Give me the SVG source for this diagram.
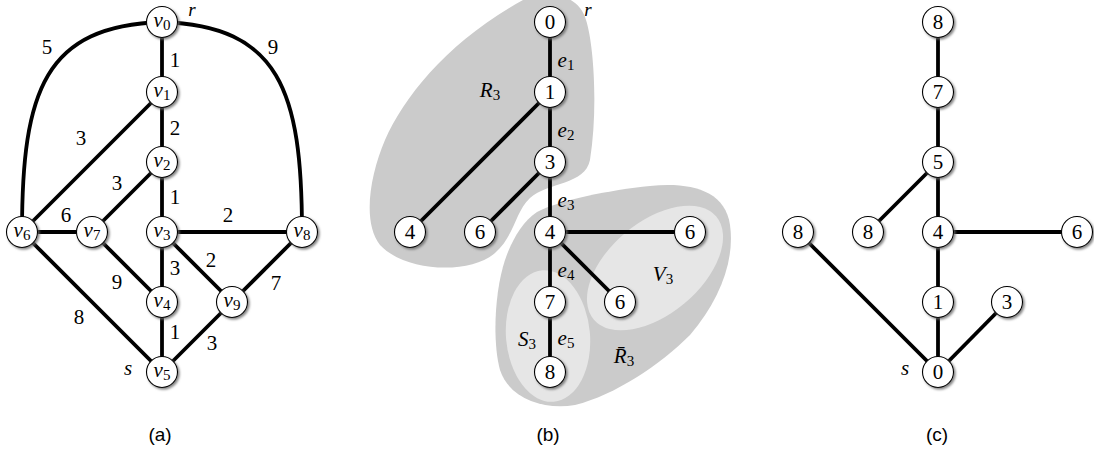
<svg xmlns="http://www.w3.org/2000/svg" width="1094" height="450" viewBox="0 0 1094 450">
<style>
.e{stroke:#000;stroke-width:3.8;fill:none;stroke-linecap:butt}
.n circle{fill:#fff;stroke:#000;stroke-width:1.1;filter:url(#sh)}
.n text{font-size:21px;text-anchor:middle;fill:#000}
.v text{font-size:21px;font-style:italic}
.sub{font-size:15px;font-style:normal}
.lb{font-size:21px;text-anchor:middle;fill:#000}
.it{font-style:italic}
.top{font-size:19px}
.cap{font-size:19px;text-anchor:middle;fill:#000}
.dark{fill:#cbcbcb}
.light{fill:#e6e6e6}
</style>
<defs>
<filter id="sh" x="-40%" y="-40%" width="180%" height="180%">
<feDropShadow dx="1.6" dy="1.6" stdDeviation="0.9" flood-color="#666" flood-opacity="0.8"/>
</filter>
</defs>
<rect width="1094" height="450" fill="#fff"/>

<!-- regions of panel (b) -->
<g id="regions">
<path class="dark" d="M523,0 C545,-10 578,-8 586,20 C594,45 598,110 590,160 C585,185 548,182 530,198 C515,212 515,235 495,253 C470,275 405,272 380,245 C362,222 370,175 385,140 C405,95 450,40 523,0 Z"/>
<path class="dark" d="M537,212 C560,200 610,190 650,186 C690,182 725,190 730,225 C735,260 720,300 690,335 C660,365 615,395 575,405 C545,410 510,400 500,370 C492,340 495,290 505,260 C512,240 522,222 537,212 Z"/>
<ellipse class="light" cx="548" cy="336" rx="42" ry="66" transform="rotate(-5 548 336)"/>
<ellipse class="light" cx="655" cy="268" rx="80" ry="46" transform="rotate(-40 655 268)"/>
</g>

<g id="connectors">
<!-- (a) -->
<path class="e" d="M162,22 C45,26 22,90 22,232"/>
<path class="e" d="M162,22 C279,26 302,90 302,232"/>
<line class="e" x1="162" y1="22" x2="162" y2="372"/>
<line class="e" x1="162" y1="92" x2="22" y2="232"/>
<line class="e" x1="162" y1="162" x2="92" y2="232"/>
<line class="e" x1="22" y1="232" x2="92" y2="232"/>
<line class="e" x1="162" y1="232" x2="302" y2="232"/>
<line class="e" x1="162" y1="232" x2="232" y2="302"/>
<line class="e" x1="302" y1="232" x2="232" y2="302"/>
<line class="e" x1="92" y1="232" x2="162" y2="302"/>
<line class="e" x1="22" y1="232" x2="162" y2="372"/>
<line class="e" x1="232" y1="302" x2="162" y2="372"/>
<!-- (b) -->
<line class="e" x1="550" y1="22" x2="550" y2="372"/>
<line class="e" x1="550" y1="92" x2="410" y2="232"/>
<line class="e" x1="550" y1="162" x2="480" y2="232"/>
<line class="e" x1="550" y1="232" x2="690" y2="232"/>
<line class="e" x1="550" y1="232" x2="620" y2="302"/>
<!-- (c) -->
<line class="e" x1="938" y1="22" x2="938" y2="372"/>
<line class="e" x1="938" y1="162" x2="868" y2="232"/>
<line class="e" x1="938" y1="232" x2="1077" y2="232"/>
<line class="e" x1="938" y1="372" x2="1007" y2="302"/>
<line class="e" x1="938" y1="372" x2="798" y2="232"/>
</g>

<g font-family="Liberation Serif, DejaVu Serif, serif">
<!-- panel (a) nodes -->
<g id="a-v0" class="n v"><circle cx="162" cy="22" r="15.5"/><text x="162" y="26.5">v<tspan class="sub" dy="3">0</tspan></text></g>
<g id="a-v1" class="n v"><circle cx="162" cy="92" r="15.5"/><text x="162" y="96.5">v<tspan class="sub" dy="3">1</tspan></text></g>
<g id="a-v2" class="n v"><circle cx="162" cy="162" r="15.5"/><text x="162" y="166.5">v<tspan class="sub" dy="3">2</tspan></text></g>
<g id="a-v3" class="n v"><circle cx="162" cy="232" r="15.5"/><text x="162" y="236.5">v<tspan class="sub" dy="3">3</tspan></text></g>
<g id="a-v6" class="n v"><circle cx="22" cy="232" r="15.5"/><text x="22" y="236.5">v<tspan class="sub" dy="3">6</tspan></text></g>
<g id="a-v7" class="n v"><circle cx="92" cy="232" r="15.5"/><text x="92" y="236.5">v<tspan class="sub" dy="3">7</tspan></text></g>
<g id="a-v8" class="n v"><circle cx="302" cy="232" r="15.5"/><text x="302" y="236.5">v<tspan class="sub" dy="3">8</tspan></text></g>
<g id="a-v4" class="n v"><circle cx="162" cy="302" r="15.5"/><text x="162" y="306.5">v<tspan class="sub" dy="3">4</tspan></text></g>
<g id="a-v9" class="n v"><circle cx="232" cy="302" r="15.5"/><text x="232" y="306.5">v<tspan class="sub" dy="3">9</tspan></text></g>
<g id="a-v5" class="n v"><circle cx="162" cy="372" r="15.5"/><text x="162" y="376.5">v<tspan class="sub" dy="3">5</tspan></text></g>

<!-- panel (b) nodes -->
<g id="b-0" class="n"><circle cx="550" cy="22" r="15.5"/><text x="550" y="29">0</text></g>
<g id="b-1" class="n"><circle cx="550" cy="92" r="15.5"/><text x="550" y="99">1</text></g>
<g id="b-3" class="n"><circle cx="550" cy="162" r="15.5"/><text x="550" y="169">3</text></g>
<g id="b-4a" class="n"><circle cx="410" cy="232" r="15.5"/><text x="410" y="239">4</text></g>
<g id="b-6a" class="n"><circle cx="480" cy="232" r="15.5"/><text x="480" y="239">6</text></g>
<g id="b-4" class="n"><circle cx="550" cy="232" r="15.5"/><text x="550" y="239">4</text></g>
<g id="b-6b" class="n"><circle cx="690" cy="232" r="15.5"/><text x="690" y="239">6</text></g>
<g id="b-7" class="n"><circle cx="550" cy="302" r="15.5"/><text x="550" y="309">7</text></g>
<g id="b-6c" class="n"><circle cx="620" cy="302" r="15.5"/><text x="620" y="309">6</text></g>
<g id="b-8" class="n"><circle cx="550" cy="372" r="15.5"/><text x="550" y="379">8</text></g>

<!-- panel (c) nodes -->
<g id="c-8a" class="n"><circle cx="938" cy="22" r="15.5"/><text x="938" y="29">8</text></g>
<g id="c-7" class="n"><circle cx="938" cy="92" r="15.5"/><text x="938" y="99">7</text></g>
<g id="c-5" class="n"><circle cx="938" cy="162" r="15.5"/><text x="938" y="169">5</text></g>
<g id="c-8b" class="n"><circle cx="798" cy="232" r="15.5"/><text x="798" y="239">8</text></g>
<g id="c-8c" class="n"><circle cx="868" cy="232" r="15.5"/><text x="868" y="239">8</text></g>
<g id="c-4" class="n"><circle cx="938" cy="232" r="15.5"/><text x="938" y="239">4</text></g>
<g id="c-6" class="n"><circle cx="1077" cy="232" r="15.5"/><text x="1077" y="239">6</text></g>
<g id="c-1" class="n"><circle cx="938" cy="302" r="15.5"/><text x="938" y="309">1</text></g>
<g id="c-3" class="n"><circle cx="1007" cy="302" r="15.5"/><text x="1007" y="309">3</text></g>
<g id="c-0" class="n"><circle cx="938" cy="372" r="15.5"/><text x="938" y="379">0</text></g>

<g id="labels">
<!-- (a) weights -->
<text class="lb" x="47" y="54">5</text>
<text class="lb" x="273" y="54">9</text>
<text class="lb" x="175" y="67">1</text>
<text class="lb" x="175" y="135">2</text>
<text class="lb" x="175" y="204">1</text>
<text class="lb" x="81" y="145">3</text>
<text class="lb" x="117" y="190">3</text>
<text class="lb" x="66" y="222">6</text>
<text class="lb" x="228" y="222">2</text>
<text class="lb" x="211" y="267">2</text>
<text class="lb" x="175" y="275">3</text>
<text class="lb" x="117" y="289">9</text>
<text class="lb" x="276" y="290">7</text>
<text class="lb" x="79" y="324">8</text>
<text class="lb" x="175" y="339">1</text>
<text class="lb" x="212" y="350">3</text>
<text class="lb it top" x="192" y="16">r</text>
<text class="lb it" x="128" y="375">s</text>
<!-- (b) -->
<text class="lb it top" x="588" y="16">r</text>
<text class="lb it" x="566" y="67">e<tspan class="sub" dy="3">1</tspan></text>
<text class="lb it" x="566" y="137">e<tspan class="sub" dy="3">2</tspan></text>
<text class="lb it" x="566" y="207">e<tspan class="sub" dy="3">3</tspan></text>
<text class="lb it" x="566" y="277">e<tspan class="sub" dy="3">4</tspan></text>
<text class="lb it" x="566" y="345">e<tspan class="sub" dy="3">5</tspan></text>
<text class="lb it" x="490" y="97">R<tspan class="sub" dy="3">3</tspan></text>
<text class="lb it" x="663" y="281">V<tspan class="sub" dy="3">3</tspan></text>
<text class="lb it" x="527" y="346">S<tspan class="sub" dy="3">3</tspan></text>
<text class="lb it" x="624" y="363">R̄<tspan class="sub" dy="3">3</tspan></text>
<!-- (c) -->
<text class="lb it" x="905" y="375">s</text>
</g>
</g>
<!-- captions -->
<g id="captions" font-family="Liberation Sans, DejaVu Sans, sans-serif">
<text class="cap" x="160" y="441">(a)</text>
<text class="cap" x="548" y="441">(b)</text>
<text class="cap" x="937" y="441">(c)</text>
</g>
</svg>
